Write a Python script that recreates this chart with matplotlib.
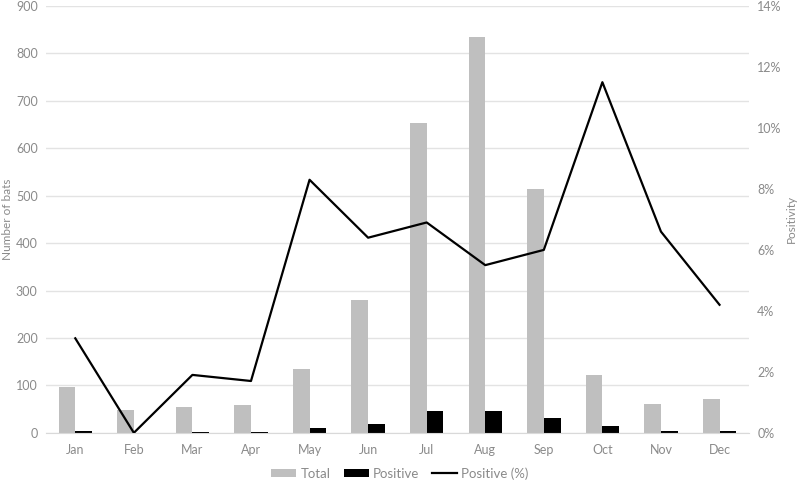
import matplotlib
matplotlib.use("Agg")
import matplotlib.pyplot as plt
import numpy as np
from matplotlib.ticker import FuncFormatter, MultipleLocator

# data
months = ["Jan", "Feb", "Mar", "Apr", "May", "Jun",
          "Jul", "Aug", "Sep", "Oct", "Nov", "Dec"]
total = [97, 49, 54, 58, 134, 281, 653, 834, 515, 122, 61, 72]
positive = [3, 0, 1, 1, 11, 18, 45, 46, 31, 14, 4, 3]
positivity_pct = [3.1, 0.0, 1.9, 1.7, 8.3, 6.4, 6.9, 5.5, 6.0, 11.5, 6.6, 4.2]

TEXT = "#8a8a8a"
GRID = "#e3e3e3"
plt.rcParams["font.family"] = ["Lato", "DejaVu Sans"]

fig = plt.figure(figsize=(8.0, 4.82), dpi=100)
ax = fig.add_axes([0.0575, 0.102, 0.8785, 0.8856])
ax2 = ax.twinx()

x = np.arange(len(months))
w = 0.2857
ax.bar(x - w / 2, total, width=w, color="#bfbfbf", label="Total", zorder=2)
ax.bar(x + w / 2, positive, width=w, color="black", label="Positive", zorder=2)
ax2.plot(x, positivity_pct, color="black", lw=1.6, label="Positive (%)", zorder=3)

ax.set_xlim(-0.5, len(months) - 0.5)
ax.set_ylim(0, 900)
ax.yaxis.set_major_locator(MultipleLocator(100))
ax2.set_ylim(0, 14)
ax2.yaxis.set_major_locator(MultipleLocator(2))
ax2.yaxis.set_major_formatter(FuncFormatter(lambda v, _: f"{v:.0f}%"))

ax.set_xticks(x)
ax.set_xticklabels(months)
ax.grid(axis="y", color=GRID, lw=1.0, zorder=0)
ax.set_axisbelow(True)

for a in (ax, ax2):
    for s in a.spines.values():
        s.set_visible(False)
    a.tick_params(length=0, labelsize=9, colors=TEXT, pad=6)
ax.spines["bottom"].set_visible(True)
ax.spines["bottom"].set_color("#d9d9d9")
ax.tick_params(axis="x", pad=8)

fig.text(0.009, 0.545, "Number of bats", rotation=90, color=TEXT, fontsize=8.5,
         ha="center", va="center")
fig.text(0.989, 0.545, "Positivity", rotation=90, color=TEXT, fontsize=8.5,
         ha="center", va="center")

h1, l1 = ax.get_legend_handles_labels()
h2, l2 = ax2.get_legend_handles_labels()
fig.legend(h1 + h2, l1 + l2, loc="center", bbox_to_anchor=(0.5, 0.018),
           ncol=3, frameon=False, fontsize=9.5, labelcolor=TEXT,
           handlelength=1.9, handleheight=0.6, columnspacing=1.0, handletextpad=0.3,
           borderpad=0.0)

fig.savefig("out.png", dpi=100)
